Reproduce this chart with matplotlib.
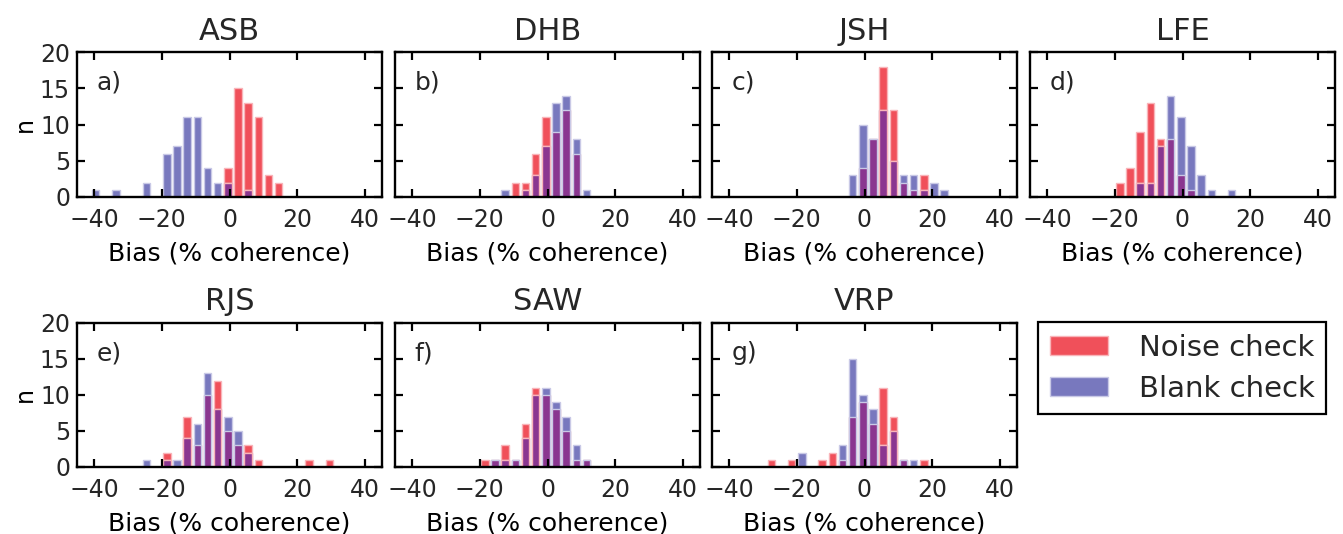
import numpy as np
import matplotlib
matplotlib.use('Agg')
from matplotlib import pyplot as plt

# bin centres (3 % wide bins), counts per bin for each observer
centers = np.arange(-42.5, 45, 3)  # 30 bins

observers = ['ASB', 'DHB', 'JSH', 'LFE', 'RJS', 'SAW', 'VRP']
letters = ['a)', 'b)', 'c)', 'd)', 'e)', 'f)', 'g)']

#            -42 -39 -36 -33 -30 -27 -24 -21 -18 -15 -12  -9  -6  -3   0   3   6   9  12  15  18  21  24  27  30  33  36  39  42  45
noise_ASB = [0,  0,  0,  0,  0,  0,  0,  0,  0,  0,  0,  0,  0,  0,  4, 15, 13, 11,  3,  2,  0,  0,  0,  0,  0,  0,  0,  0,  0,  0]
blank_ASB = [0,  1,  0,  1,  0,  0,  2,  0,  6,  7, 11, 11,  4,  2,  2,  0,  1,  0,  0,  0,  0,  0,  0,  0,  0,  0,  0,  0,  0,  0]
noise_DHB = [0,  0,  0,  0,  0,  0,  0,  0,  0,  0,  0,  2,  2,  6, 11,  9, 12,  6,  0,  0,  0,  0,  0,  0,  0,  0,  0,  0,  0,  0]
blank_DHB = [0,  0,  0,  0,  0,  0,  0,  0,  0,  0,  1,  0,  1,  3,  7, 13, 14,  8,  1,  0,  0,  0,  0,  0,  0,  0,  0,  0,  0,  0]
noise_JSH = [0,  0,  0,  0,  0,  0,  0,  0,  0,  0,  0,  0,  0,  0,  4,  8, 18, 12,  2,  1,  3,  0,  0,  0,  0,  0,  0,  0,  0,  0]
blank_JSH = [0,  0,  0,  0,  0,  0,  0,  0,  0,  0,  0,  0,  0,  3, 10,  8, 12,  5,  3,  3,  1,  2,  1,  0,  0,  0,  0,  0,  0,  0]
noise_LFE = [0,  0,  0,  0,  0,  0,  0,  0,  2,  4,  9, 13,  8,  8,  3,  1,  0,  0,  0,  0,  0,  0,  0,  0,  0,  0,  0,  0,  0,  0]
blank_LFE = [0,  0,  0,  0,  0,  0,  0,  0,  0,  0,  2,  2,  7, 14, 11,  7,  3,  1,  0,  1,  0,  0,  0,  0,  0,  0,  0,  0,  0,  0]
noise_RJS = [0,  0,  0,  0,  0,  0,  0,  0,  2,  0,  7,  3, 10, 12,  5,  3,  3,  1,  0,  0,  0,  0,  1,  0,  1,  0,  0,  0,  0,  0]
blank_RJS = [0,  0,  0,  0,  0,  0,  1,  0,  1,  1,  4,  6, 13,  8,  7,  5,  2,  0,  0,  0,  0,  0,  0,  0,  0,  0,  0,  0,  0,  0]
noise_SAW = [0,  0,  0,  0,  0,  0,  0,  0,  1,  1,  3,  1,  6, 11, 10,  8,  5,  1,  1,  0,  0,  0,  0,  0,  0,  0,  0,  0,  0,  0]
blank_SAW = [0,  0,  0,  0,  0,  0,  0,  0,  0,  1,  1,  1,  4, 10, 11,  9,  7,  3,  1,  0,  0,  0,  0,  0,  0,  0,  0,  0,  0,  0]
noise_VRP = [0,  0,  0,  0,  0,  1,  0,  1,  0,  0,  1,  2,  1,  7,  9,  6, 11,  7,  1,  0,  1,  0,  0,  0,  0,  0,  0,  0,  0,  0]
blank_VRP = [0,  0,  0,  0,  0,  0,  0,  0,  2,  0,  0,  0,  3, 15, 10,  8,  3,  5,  1,  1,  0,  0,  0,  0,  0,  0,  0,  0,  0,  0]

noise = [noise_ASB, noise_DHB, noise_JSH, noise_LFE, noise_RJS, noise_SAW, noise_VRP]
blank = [blank_ASB, blank_DHB, blank_JSH, blank_LFE, blank_RJS, blank_SAW, blank_VRP]

txt = '#262626'
red = '#F0505A'
blue = '#7878BE'
purple = '#8A3690'
red_edge = '#F9B4B9'
blue_edge = '#C9C9E6'

plt.rcParams['font.family'] = 'DejaVu Sans'
plt.rcParams['text.color'] = txt
plt.rcParams['xtick.color'] = 'black'
plt.rcParams['ytick.color'] = 'black'
plt.rcParams['xtick.labelcolor'] = txt
plt.rcParams['ytick.labelcolor'] = txt

W, H = 1343., 534.
fig = plt.figure(figsize=(W/100, H/100), dpi=100)

lefts = [77, 395, 712, 1030]
rows = [(52, 197), (323, 467)]
aw = 305

for k in range(7):
    r, c = divmod(k, 4)
    top, bot = rows[r]
    ax = fig.add_axes([lefts[c]/W, 1-bot/H, aw/W, (bot-top)/H])
    n = np.array(noise[k])
    b = np.array(blank[k])
    both = np.minimum(n, b)
    # where the two histograms overlap the colour mixes to purple
    edge_both = [red_edge if nn > bb else blue_edge for nn, bb in zip(n, b)]
    ax.bar(centers, n, width=2.2, color=red, edgecolor=red_edge, linewidth=1)
    ax.bar(centers, b, width=2.2, color=blue, edgecolor=blue_edge, linewidth=1)
    ax.bar(centers, both, width=2.2, color=purple, edgecolor=edge_both,
           linewidth=1)
    ax.set_xlim(-45, 45)
    ax.set_ylim(0, 20)
    ax.set_xticks([-40, -20, 0, 20, 40])
    ax.set_yticks([0, 5, 10, 15, 20])
    ax.tick_params(direction='in', top=True, right=True, length=5.5, width=1.6,
                   labelsize=17)
    ax.tick_params(axis='x', pad=8)
    ax.tick_params(axis='y', pad=5)
    for s in ax.spines.values():
        s.set_linewidth(1.7)
    if c == 0:
        ax.set_ylabel('n', fontsize=17, labelpad=2)
    else:
        ax.set_yticklabels([])
    ax.set_xlabel('Bias (% coherence)', fontsize=18, labelpad=7)
    ax.set_title(observers[k], fontsize=22, pad=9)
    ax.text(0.065, 0.79, letters[k], transform=ax.transAxes, fontsize=18,
            va='center', ha='left')

# legend in the empty slot
hr = plt.Rectangle((0, 0), 1, 1, facecolor=red, edgecolor=red_edge)
hb = plt.Rectangle((0, 0), 1, 1, facecolor=blue, edgecolor=blue_edge)
leg = fig.legend([hr, hb], ['Noise check', 'Blank check'], loc='upper left',
                 bbox_to_anchor=(1038/W, 1-322/H), fontsize=21,
                 fancybox=False, framealpha=1, edgecolor='black',
                 handlelength=2.0, handleheight=0.65, handletextpad=1.05,
                 borderpad=0.4, labelspacing=0.45, borderaxespad=0)
leg.get_frame().set_linewidth(1.6)

fig.savefig('out.png', dpi=100)
